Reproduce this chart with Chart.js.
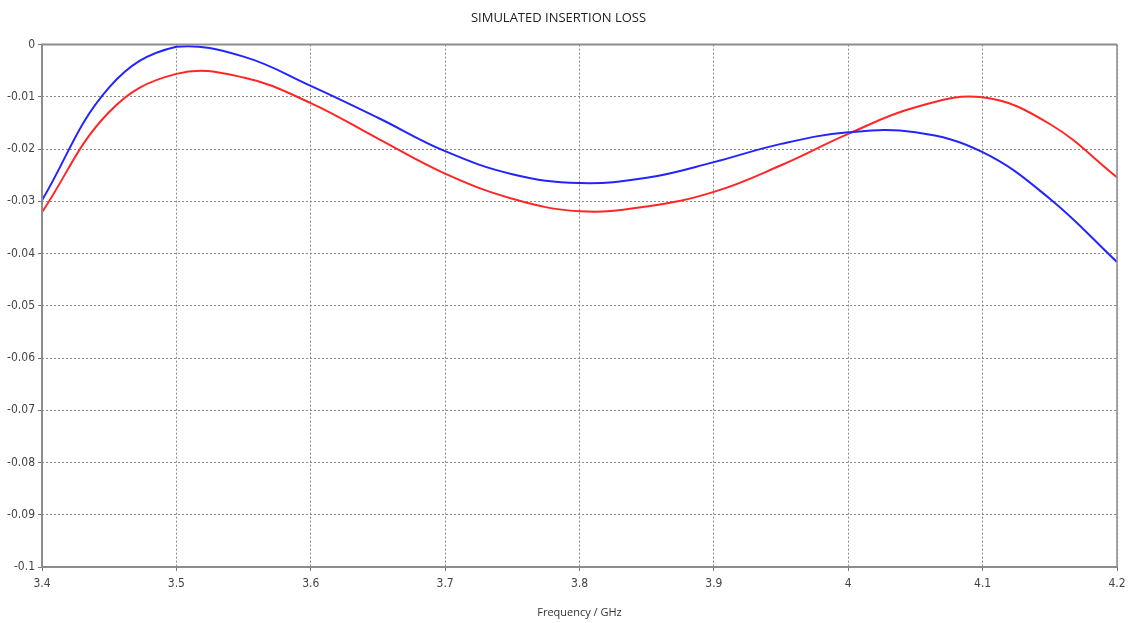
<!DOCTYPE html>
<html>
<head>
<meta charset="utf-8">
<script src="https://cdn.jsdelivr.net/npm/chart.js@4.4.1/dist/chart.umd.min.js"></script>
<style>
  html, body { margin: 0; padding: 0; background: #fff; }
  #wrap { width: 1132px; height: 623px; }
</style>
</head>
<body>
<div id="wrap"><canvas id="lossChart" width="1132" height="623"></canvas></div>
<script>
// frequency points (GHz)
var freq = [3.4, 3.45, 3.5, 3.55, 3.6, 3.65, 3.7, 3.75, 3.8, 3.85, 3.9, 3.95, 4.0, 4.05, 4.1, 4.15, 4.2];
// blue trace
var blueLoss = [-0.0298, -0.0082, -0.0004, -0.0023, -0.0079, -0.0140, -0.0204, -0.0248, -0.0265, -0.0255, -0.0225, -0.0190, -0.0168, -0.0168, -0.0206, -0.0295, -0.0416];
// red trace
var redLoss = [-0.0321, -0.0129, -0.0056, -0.0063, -0.0112, -0.0180, -0.0247, -0.0295, -0.0319, -0.0310, -0.0282, -0.0231, -0.0171, -0.0120, -0.0101, -0.0152, -0.0254];
var xTicks = [3.4, 3.5, 3.6, 3.7, 3.8, 3.9, 4.0, 4.1, 4.2];

function toPoints(ys) {
    return freq.map(function(f, i) { return {x: f, y: ys[i]}; });
}

// solid frame round the plot area
var frame = {
    id: 'frame',
    afterDatasetsDraw: function(chart) {
        var a = chart.chartArea, c = chart.ctx;
        c.save();
        c.strokeStyle = '#8c8c8c';
        c.lineWidth = 2;
        c.beginPath();
        c.moveTo(a.right, a.top);
        c.lineTo(a.left, a.top);
        c.lineTo(a.left, a.bottom);
        c.lineTo(a.right, a.bottom);
        c.stroke();
        c.lineWidth = 1.5;
        c.beginPath();
        c.moveTo(a.right, a.top);
        c.lineTo(a.right, a.bottom);
        c.stroke();
        c.restore();
    }
};

var tickFont = {family: '"Liberation Sans Narrow", "DejaVu Sans Condensed", sans-serif', size: 12};

var ctx = document.getElementById('lossChart').getContext('2d');
var lossChart = new Chart(ctx, {
    type: 'line',
    data: {
        datasets: [
            {
                label: 'S21 a',
                data: toPoints(blueLoss),
                borderColor: '#2424ff',
                borderWidth: 2,
                pointRadius: 0,
                tension: 0.4,
                fill: false
            },
            {
                label: 'S21 b',
                data: toPoints(redLoss),
                borderColor: '#ff2626',
                borderWidth: 2,
                pointRadius: 0,
                tension: 0.4,
                fill: false
            }
        ]
    },
    options: {
        responsive: false,
        animation: false,
        layout: {padding: {left: 0, right: 15, top: 0, bottom: 0}},
        plugins: {
            legend: {display: false},
            tooltip: {enabled: false},
            title: {
                display: true,
                text: 'SIMULATED INSERTION LOSS',
                color: '#222',
                font: {family: '"Open Sans", sans-serif', size: 13, weight: 'normal'},
                padding: {top: 10, bottom: 19}
            }
        },
        scales: {
            x: {
                type: 'linear',
                min: 3.4,
                max: 4.2,
                afterBuildTicks: function(axis) {
                    axis.ticks = xTicks.map(function(v) { return {value: v}; });
                },
                afterFit: function(axis) { axis.height = 56; },
                ticks: {
                    color: '#444',
                    font: tickFont,
                    padding: 6,
                    maxRotation: 0,
                    callback: function(v) { return String(Number(v.toFixed(1))); }
                },
                grid: {
                    color: '#8a8a8a',
                    lineWidth: 1,
                    tickLength: 4,
                    tickColor: '#777'
                },
                border: {display: false, dash: [2, 2]},
                title: {
                    display: true,
                    text: 'Frequency / GHz',
                    color: '#333',
                    font: {family: '"Open Sans", sans-serif', size: 11},
                    padding: {top: 2}
                }
            },
            y: {
                min: -0.1,
                max: 0,
                afterFit: function(axis) { axis.width = 42; },
                ticks: {
                    stepSize: 0.01,
                    color: '#444',
                    font: tickFont,
                    padding: 3,
                    callback: function(v) { return String(Number(v.toFixed(2))); }
                },
                grid: {
                    color: '#8a8a8a',
                    lineWidth: 1,
                    tickLength: 4,
                    tickColor: '#777'
                },
                border: {display: false, dash: [2, 2]}
            }
        }
    },
    plugins: [frame]
});
</script>
</body>
</html>
